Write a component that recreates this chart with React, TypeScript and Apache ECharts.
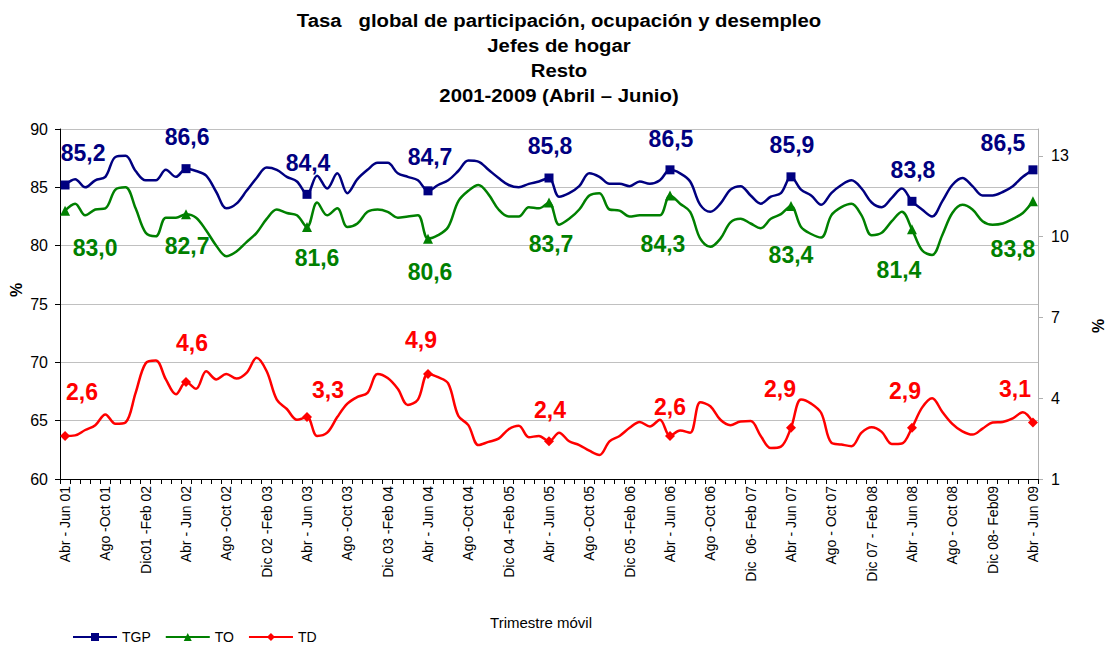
import React, { useEffect, useRef } from "react";
import * as echarts from "echarts";

const shownLabels = [
  "Abr - Jun 01", "Ago -Oct 01", "Dic01 -Feb 02",
  "Abr - Jun 02", "Ago -Oct 02", "Dic 02 -Feb 03",
  "Abr - Jun 03", "Ago -Oct 03", "Dic 03 -Feb 04",
  "Abr - Jun 04", "Ago -Oct 04", "Dic 04 -Feb 05",
  "Abr - Jun 05", "Ago -Oct 05", "Dic 05 -Feb 06",
  "Abr - Jun 06", "Ago -Oct 06", "Dic  06- Feb 07",
  "Abr - Jun 07", "Ago - Oct 07", "Dic 07 - Feb 08",
  "Abr - Jun 08", "Ago - Oct 08", "Dic 08- Feb09",
  "Abr - Jun 09",
];

const monthAbbr = ["Ene", "Feb", "Mar", "Abr", "May", "Jun", "Jul", "Ago", "Sep", "Oct", "Nov", "Dic"];

const categories = Array.from({ length: 97 }, (_, i) =>
  i % 4 === 0
    ? shownLabels[i / 4]
    : `${monthAbbr[(3 + i) % 12]} - ${monthAbbr[(5 + i) % 12]} ${String(1 + Math.floor((5 + i) / 12)).padStart(2, "0")}`
);

const tgp = [
  85.2, 85.7, 85.0, 85.6, 85.9, 87.6, 87.7, 86.4, 85.6, 85.6, 86.5, 85.9,
  86.6, 86.4, 86.0, 84.6, 83.2, 83.6, 84.7, 85.8, 86.7, 86.5, 85.9, 85.5,
  84.4, 86.0, 84.9, 86.2, 84.5, 85.7, 86.5, 87.1, 87.1, 86.2, 85.9, 85.6,
  84.7, 85.2, 85.6, 86.4, 87.3, 87.2, 86.5, 85.8, 85.2, 85.0, 85.3, 85.5,
  85.8, 84.2, 84.5, 85.1, 86.2, 85.9, 85.3, 85.3, 85.1, 85.5, 85.3, 85.6,
  86.5, 86.2, 85.5, 83.5, 82.9, 83.6, 84.8, 85.1, 84.3, 83.6, 84.2, 84.5,
  85.9, 84.8, 84.3, 83.5, 84.5, 85.2, 85.6, 84.9, 83.7, 83.3, 84.1, 84.9,
  83.8, 83.1, 82.5, 83.8, 85.2, 85.8, 85.1, 84.3, 84.3, 84.6, 85.1, 85.9,
  86.5,
];

const to = [
  83.0, 83.6, 82.6, 83.1, 83.2, 84.8, 85.0, 83.2, 81.1, 80.8, 82.4, 82.4,
  82.7, 82.4, 81.3, 80.0, 79.1, 79.5, 80.3, 81.1, 82.3, 83.1, 82.8, 82.6,
  81.6, 83.7, 82.6, 83.2, 81.6, 81.9, 82.9, 83.1, 82.9, 82.4, 82.5, 82.6,
  80.6, 80.9, 81.6, 83.8, 84.7, 85.2, 84.4, 83.1, 82.5, 82.5, 83.3, 83.2,
  83.7, 81.8, 82.3, 83.1, 84.3, 84.5, 83.1, 83.0, 82.5, 82.6, 82.6, 82.6,
  84.3, 83.6, 82.9, 80.6, 79.9, 80.6, 82.0, 82.3, 81.9, 81.5, 82.3, 82.7,
  83.4, 81.6, 81.0, 80.7, 82.6, 83.3, 83.6, 82.6, 80.9, 81.1, 82.1, 82.9,
  81.4, 79.6, 79.2, 80.9, 82.8, 83.5, 83.1, 82.1, 81.8, 81.9, 82.3, 82.8,
  83.8,
];

const td = [
  2.6, 2.62, 2.82, 3.0, 3.4, 3.05, 3.1, 4.2, 5.3, 5.4, 4.7, 4.15,
  4.6, 4.35, 5.0, 4.7, 4.9, 4.73, 4.94, 5.5, 5.0, 3.95, 3.6, 3.2,
  3.3, 2.6, 2.72, 3.3, 3.8, 4.05, 4.2, 4.9, 4.75, 4.35, 3.75, 3.95,
  4.9, 4.78, 4.55, 3.35, 3.0, 2.26, 2.38, 2.5, 2.85, 2.98, 2.55, 2.6,
  2.4, 2.72, 2.4, 2.26, 2.05, 1.89, 2.4, 2.6, 2.9, 3.12, 2.95, 3.2,
  2.6, 2.8, 2.72, 3.85, 3.7, 3.2, 3.0, 3.14, 3.15, 2.6, 2.15, 2.2,
  2.9, 3.95, 3.8, 3.45, 2.35, 2.28, 2.22, 2.72, 2.92, 2.75, 2.3, 2.32,
  2.9, 3.65, 4.0, 3.5, 3.05, 2.77, 2.65, 2.87, 3.1, 3.12, 3.25, 3.48,
  3.1,
];

// label offsets (style) relative to each yearly marker
const tgpLabelOffsets = [[18, -32], [1, -32], [1, -31], [2, -34], [1, -32], [1, -31], [1, -32], [1, -31], [-30, -27]];
const toLabelOffsets = [[30, 37], [1, 32], [10, 31], [2, 33], [2, 41], [-7, 48], [0, 49], [-13, 41], [-20, 48]];
const tdLabelOffsets = [[17, -44], [6, -39], [21, -27], [-7, -34], [1, -31], [0, -29], [-11, -39], [-7, -37], [-18, -33]];

const FONT = "'Liberation Sans', Arial, sans-serif";
const fmt = (p: any) => Number(p.value).toFixed(1).replace(".", ",");

function buildData(vals: number[], offsets: number[][], color: string) {
  return vals.map((v, i) => {
    if (i % 12 !== 0) return { value: v, symbol: "none" };
    return {
      value: v,
      label: {
        show: true,
        position: "inside",
        offset: offsets[i / 12],
        formatter: fmt,
        color,
        fontWeight: "bold",
        fontSize: 23,
        fontFamily: FONT,
      },
    };
  });
}

export default function App() {
  const ref = useRef<HTMLDivElement>(null);
  useEffect(() => {
    if (!ref.current) return;
    const chart = echarts.init(ref.current, null, { renderer: "svg" });
    const titleLines = [
      "Tasa   global de participación, ocupación y desempleo",
      "Jefes de hogar",
      "Resto",
      "2001-2009 (Abril – Junio)",
    ];
    chart.setOption({
      animation: false,
      backgroundColor: "#ffffff",
      textStyle: { fontFamily: FONT },
      graphic: [
        ...titleLines.map((t, k) => ({
          type: "text",
          x: 559,
          y: 20 + k * 25,
          scaleX: 1.07,
          style: {
            text: t,
            fill: "#000",
            font: `bold 19px ${FONT}`,
            textAlign: "center",
            textVerticalAlign: "middle",
          },
        })),
        {
          type: "text",
          x: 16,
          y: 290,
          rotation: Math.PI / 2,
          style: { text: "%", fill: "#000", font: `bold 16px ${FONT}`, textAlign: "center", textVerticalAlign: "middle" },
        },
        {
          type: "text",
          x: 1098,
          y: 326,
          rotation: Math.PI / 2,
          style: { text: "%", fill: "#000", font: `bold 16px ${FONT}`, textAlign: "center", textVerticalAlign: "middle" },
        },
        {
          type: "text",
          x: 541,
          y: 622,
          style: { text: "Trimestre móvil", fill: "#000", font: `15px ${FONT}`, textAlign: "center", textVerticalAlign: "middle" },
        },
      ],
      legend: {
        data: ["TGP", "TO", "TD"],
        left: 70,
        top: 628,
        itemWidth: 44,
        itemHeight: 10,
        itemGap: 14,
        padding: 2,
        textStyle: { fontSize: 14, color: "#000", fontFamily: FONT },
      },
      grid: { left: 60, right: 69, top: 129, bottom: 166, containLabel: false },
      xAxis: {
        type: "category",
        data: categories,
        boundaryGap: true,
        axisLine: { lineStyle: { color: "#000", width: 1 } },
        axisTick: { show: true, interval: 0, length: 5, lineStyle: { color: "#000" } },
        axisLabel: {
          interval: 3,
          rotate: 90,
          fontSize: 14,
          color: "#000",
          margin: 7,
          fontFamily: FONT,
        },
        splitLine: { show: false },
      },
      yAxis: [
        {
          type: "value",
          min: 60,
          max: 90,
          interval: 5,
          axisLine: { show: true, lineStyle: { color: "#000" } },
          axisTick: { show: true, length: 5, lineStyle: { color: "#000" } },
          axisLabel: { fontSize: 16, color: "#000", margin: 12, fontFamily: FONT },
          splitLine: { show: true, lineStyle: { color: "#c0c0c0", width: 1 } },
        },
        {
          type: "value",
          min: 1,
          max: 14,
          interval: 3,
          position: "right",
          axisLine: { show: true, lineStyle: { color: "#b0b0b0" } },
          axisTick: { show: true, length: 5, lineStyle: { color: "#b0b0b0" } },
          axisLabel: { fontSize: 16, color: "#000", margin: 13, showMaxLabel: false, fontFamily: FONT },
          splitLine: { show: false },
        },
      ],
      series: [
        {
          name: "TGP",
          type: "line",
          data: buildData(tgp, tgpLabelOffsets, "#000080"),
          smooth: 0.35,
          symbol: "rect",
          symbolSize: 9,
          showSymbol: true,
          showAllSymbol: true,
          itemStyle: { color: "#000080" },
          lineStyle: { color: "#000080", width: 2.5 },
          z: 3,
        },
        {
          name: "TO",
          type: "line",
          data: buildData(to, toLabelOffsets, "#008000"),
          smooth: 0.35,
          symbol: "triangle",
          symbolSize: 10,
          showSymbol: true,
          showAllSymbol: true,
          itemStyle: { color: "#008000" },
          lineStyle: { color: "#008000", width: 2.5 },
          z: 3,
        },
        {
          name: "TD",
          type: "line",
          yAxisIndex: 1,
          data: buildData(td, tdLabelOffsets, "#ff0000"),
          smooth: 0.35,
          symbol: "diamond",
          symbolSize: 10,
          showSymbol: true,
          showAllSymbol: true,
          itemStyle: { color: "#ff0000" },
          lineStyle: { color: "#ff0000", width: 2.5 },
          z: 3,
        },
      ],
    });
    return () => chart.dispose();
  }, []);
  return (
    <div
      ref={ref}
      style={{ position: "fixed", left: 0, top: 0, width: 1107, height: 645, background: "#fff" }}
    />
  );
}
